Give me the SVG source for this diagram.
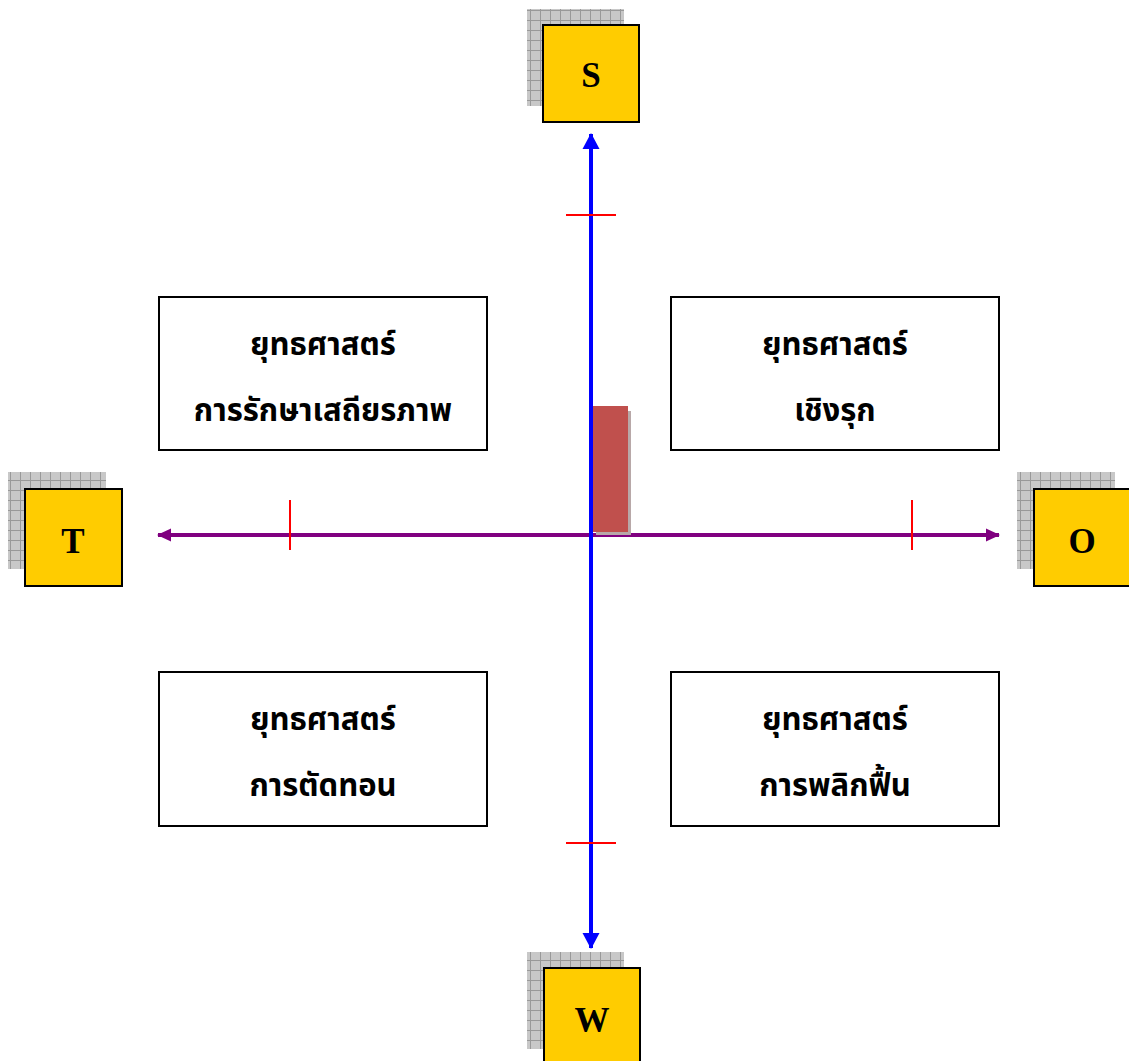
<svg xmlns="http://www.w3.org/2000/svg" width="1129" height="1061" viewBox="0 0 1129 1061">
<style>
.box{fill:#fff;stroke:#000;stroke-width:2}
.lbl{fill:#FFCC00;stroke:#000;stroke-width:2}
.shadow{fill:url(#grid)}
.ltr{font-family:"Liberation Serif",serif;font-weight:bold;font-size:35px;text-anchor:middle;fill:#000}
.th{font-family:"Noto Sans Thai","Noto Serif Thai","Noto Sans",sans-serif;font-weight:bold;font-size:31px;text-anchor:middle;fill:#000}
.tick{stroke:#FF0000;stroke-width:2}
</style>
<defs>
<pattern id="grid" width="10" height="10" patternUnits="userSpaceOnUse">
<rect width="10" height="10" fill="#C8C8C8"/>
<path d="M0 0.5H10M0.5 0V10" stroke="#999" stroke-width="1"/>
</pattern>
<marker id="ab" viewBox="0 0 16 18" refX="15" refY="9" markerWidth="16" markerHeight="18" orient="auto-start-reverse" markerUnits="userSpaceOnUse">
<path d="M0 0.5L16 9L0 17.5z" fill="#0000FF"/>
</marker>
<marker id="ap" viewBox="0 0 14 14" refX="13" refY="7" markerWidth="14" markerHeight="14" orient="auto-start-reverse" markerUnits="userSpaceOnUse">
<path d="M0 0.5L14 7L0 13.5z" fill="#800080"/>
</marker>
</defs>
<rect width="1129" height="1061" fill="#fff"/>
<g id="connectors">
<line x1="158" y1="535" x2="999" y2="535" stroke="#800080" stroke-width="4" marker-start="url(#ap)" marker-end="url(#ap)"/>
<line x1="591" y1="134" x2="591" y2="948" stroke="#0000FF" stroke-width="4" marker-start="url(#ab)" marker-end="url(#ab)"/>
<line class="tick" x1="566" y1="215" x2="616" y2="215"/>
<line class="tick" x1="566" y1="843" x2="616" y2="843"/>
<line class="tick" x1="290" y1="500" x2="290" y2="550"/>
<line class="tick" x1="912" y1="500" x2="912" y2="550"/>
</g>
<g id="bar">
<rect x="596" y="411" width="35" height="124" fill="#B8A8A8"/>
<rect x="593" y="406" width="35" height="126" fill="#C0504D"/>
</g>
<g id="node-S">
<rect class="shadow" x="527" y="9" width="97" height="97"/>
<rect class="lbl" x="543" y="25" width="96" height="97"/>
<text class="ltr" x="591" y="87">S</text>
</g>
<g id="node-T">
<rect class="shadow" x="8" y="472" width="98" height="97"/>
<rect class="lbl" x="25" y="489" width="97" height="97"/>
<text class="ltr" x="73" y="553">T</text>
</g>
<g id="node-O">
<rect class="shadow" x="1017" y="472" width="98" height="97"/>
<rect class="lbl" x="1034" y="489" width="97" height="97"/>
<text class="ltr" x="1082" y="553">O</text>
</g>
<g id="node-W">
<rect class="shadow" x="527" y="952" width="97" height="97"/>
<rect class="lbl" x="544" y="968" width="96" height="97"/>
<text class="ltr" x="592" y="1032">W</text>
</g>
<g id="node-TL">
<rect class="box" x="159" y="297" width="328" height="153"/>
<text class="th" x="323" y="355">ยุทธศาสตร์</text>
<text class="th" x="323" y="421">การรักษาเสถียรภาพ</text>
</g>
<g id="node-TR">
<rect class="box" x="671" y="297" width="328" height="153"/>
<text class="th" x="835" y="355">ยุทธศาสตร์</text>
<text class="th" x="835" y="421">เชิงรุก</text>
</g>
<g id="node-BL">
<rect class="box" x="159" y="672" width="328" height="154"/>
<text class="th" x="323" y="730">ยุทธศาสตร์</text>
<text class="th" x="323" y="796">การตัดทอน</text>
</g>
<g id="node-BR">
<rect class="box" x="671" y="672" width="328" height="154"/>
<text class="th" x="835" y="730">ยุทธศาสตร์</text>
<text class="th" x="835" y="796">การพลิกฟื้น</text>
</g>
</svg>
